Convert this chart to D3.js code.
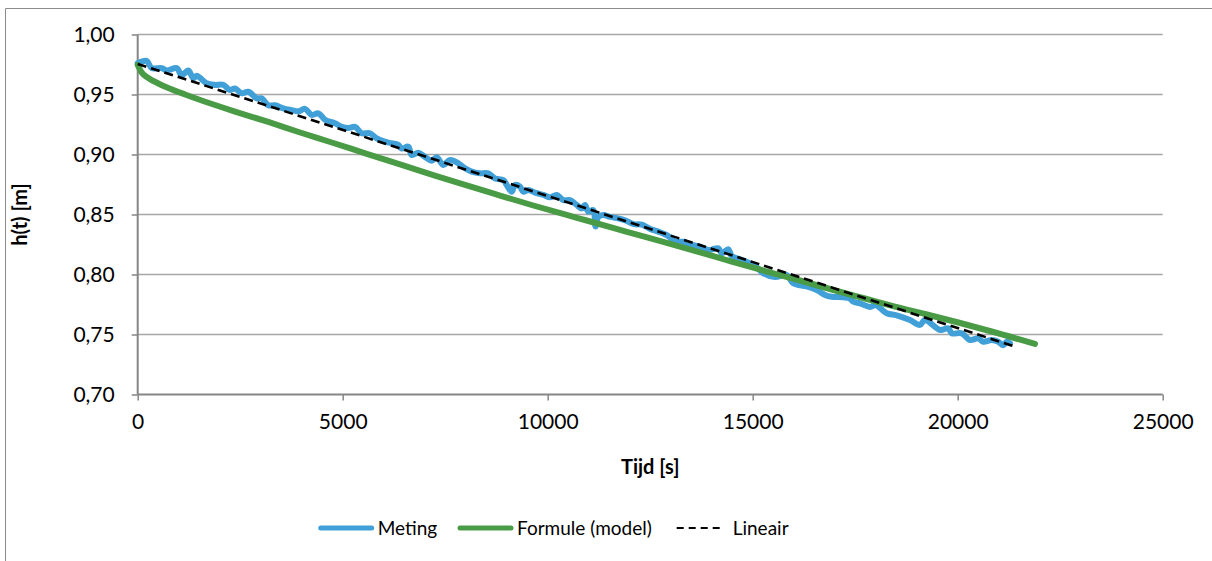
<!DOCTYPE html>
<html>
<head>
<meta charset="utf-8">
<script src="https://cdn.jsdelivr.net/npm/d3@7"></script>
<style>
  body { margin: 0; background: #fff; }
  svg { display: block; }
  text { font-family: Lato, "Open Sans", sans-serif; fill: #000; }
</style>
</head>
<body>
<svg id="chart" width="1212" height="561"></svg>
<script>
// Meting (measurement) [t, h]
let metingT = [0, 217, 341, 585, 707, 951, 1073, 1234, 1356, 1439, 1683, 1885, 2088, 2251, 2373, 2537, 2698, 2902, 3024, 3185,
    3349, 3551, 3756, 3917, 4080, 4244, 4405, 4568, 4812, 4976, 5137, 5300, 5463, 5666, 5829, 6112, 6356, 6439, 6600, 6683,
    6844, 7007, 7171, 7293, 7454, 7617, 7820, 7983, 8146, 8349, 8551, 8715, 8917, 9000, 9122, 9202, 9324, 9405, 9527, 9690,
    9893, 10056, 10220, 10380, 10544, 10707, 10829, 10910, 10990, 11112, 11166, 11234, 11356, 11520, 11722, 11900, 12100, 12300, 12500, 12700,
    12941, 13110, 13307, 13512, 13715, 13917, 14161, 14244, 14405, 14488, 14690, 14934, 15100, 15259, 15544, 15829, 15990, 16317, 16561, 16763,
    16927, 17210, 17373, 17454, 17617, 17861, 18000, 18268, 18512, 18837, 19080, 19200, 19568, 19771, 19854, 20098, 20300, 20503, 20625, 20830,
    20990, 21112, 21195, 21276];
let metingH = [0.976, 0.978, 0.972, 0.972, 0.970, 0.972, 0.966, 0.970, 0.9635, 0.9657, 0.9593, 0.958, 0.958, 0.9538, 0.955, 0.951, 0.9523, 0.9468, 0.9468, 0.941,
    0.941, 0.9385, 0.937, 0.936, 0.938, 0.933, 0.9343, 0.929, 0.926, 0.923, 0.922, 0.923, 0.9177, 0.9177, 0.9135, 0.910, 0.908, 0.905, 0.9065, 0.8996,
    0.9015, 0.898, 0.8948, 0.8977, 0.8913, 0.8954, 0.8927, 0.8885, 0.8857, 0.8843, 0.8843, 0.880, 0.8788, 0.8746, 0.869, 0.8746, 0.8732, 0.869, 0.8704, 0.8682,
    0.8663, 0.8643, 0.8663, 0.862, 0.862, 0.858, 0.855, 0.858, 0.8523, 0.8537, 0.840, 0.848, 0.8496, 0.848, 0.8468, 0.845, 0.842, 0.8415, 0.838, 0.8357,
    0.832, 0.8273, 0.8273, 0.8246, 0.8232, 0.8204, 0.8218, 0.8177, 0.821, 0.8154, 0.8127, 0.8093, 0.806, 0.801, 0.798, 0.7996, 0.7927, 0.790, 0.787, 0.783,
    0.7815, 0.781, 0.780, 0.7773, 0.776, 0.773, 0.7746, 0.7677, 0.766, 0.762, 0.758, 0.762, 0.7538, 0.7552, 0.751, 0.751, 0.7454, 0.7468, 0.744, 0.7454,
    0.744, 0.741, 0.744, 0.7427];

// Formule (model)
let modelT = [0, 98, 259, 502, 746, 1154, 1561, 2373, 3185, 4000, 4732, 5568, 6398, 7210, 8024, 8837, 9649, 10463, 10951, 11910,
    12861, 13673, 14488, 15300, 16112, 16927, 17739, 18471, 19202, 20015, 20829, 21885];
let modelH = [0.9746, 0.9683, 0.9638, 0.9592, 0.9554, 0.950, 0.945, 0.9358, 0.9271, 0.9179, 0.910, 0.9008, 0.8917, 0.8829, 0.8742, 0.8658, 0.8575, 0.8496, 0.845, 0.8358,
    0.8267, 0.8188, 0.8108, 0.8029, 0.7954, 0.7875, 0.780, 0.7733, 0.7671, 0.760, 0.7525, 0.7421];

// Lineair (trendline)
let lineairT = [0, 21350];
let lineairH = [0.9755, 0.7405];

let xTicks = [0, 5000, 10000, 15000, 20000, 25000];
let yTicks = [0.70, 0.75, 0.80, 0.85, 0.90, 0.95, 1.00];

let legendNames = ["Meting", "Formule (model)", "Lineair"];
let colors = ["#41a0d8", "#4a9b46", "#000"];

let svg = d3.select("#chart");
let locale = d3.formatLocale({decimal: ",", thousands: ".", grouping: [3], currency: ["", ""]});
let fmtY = locale.format(".2f");

let x = d3.scaleLinear().domain([0, 25000]).range([137.7, 1162.7]);
let y = d3.scaleLinear().domain([0.70, 1.00]).range([394.5, 34.5]);

// outer frame (top + left visible)
svg.append("path")
    .attr("d", "M5.5,565 V8.5 H1215")
    .attr("fill", "none")
    .attr("stroke", "#8c8c8c")
    .attr("stroke-width", 1);

// grid
svg.append("g").selectAll("line")
    .data(yTicks.slice(1))
    .join("line")
    .attr("x1", x(0)).attr("x2", x(25000))
    .attr("y1", d => y(d)).attr("y2", d => y(d))
    .attr("stroke", "#a6a6a6")
    .attr("stroke-width", 1.5);

// y axis
let yAxis = d3.axisLeft(y).tickValues(yTicks).tickFormat(fmtY).tickSize(6).tickPadding(17);
let gy = svg.append("g").attr("transform", "translate(" + x(0) + ",0)").call(yAxis);
gy.select(".domain").remove();
gy.selectAll(".tick line").attr("stroke", "#868686").attr("stroke-width", 1.5);
gy.selectAll(".tick text").style("font-size", "21px").attr("dy", "0.35em");
svg.append("line")
    .attr("x1", x(0)).attr("x2", x(0))
    .attr("y1", y(1.00)).attr("y2", y(0.70))
    .attr("stroke", "#868686").attr("stroke-width", 2);

// x axis
let xAxis = d3.axisBottom(x).tickValues(xTicks).tickFormat(d3.format("d")).tickSize(6).tickPadding(14);
let gx = svg.append("g").attr("transform", "translate(0," + y(0.70) + ")").call(xAxis);
gx.select(".domain").remove();
gx.selectAll(".tick line").attr("stroke", "#868686").attr("stroke-width", 1.5);
gx.selectAll(".tick text").style("font-size", "21px");
svg.append("line")
    .attr("x1", x(0)).attr("x2", x(25000))
    .attr("y1", y(0.70)).attr("y2", y(0.70))
    .attr("stroke", "#868686").attr("stroke-width", 2);

// axis titles
svg.append("text")
    .attr("x", (x(0) + x(25000)) / 2).attr("y", 474)
    .attr("text-anchor", "middle")
    .style("font-size", "20px").style("font-weight", "bold")
    .text("Tijd [s]");
svg.append("text")
    .attr("transform", "translate(27," + (y(0.85)) + ") rotate(-90)")
    .attr("text-anchor", "middle")
    .style("font-size", "20px").style("font-weight", "bold")
    .text("h(t) [m]");

// series
let meting = metingT.map((t, i) => [t, metingH[i]]);
let model = modelT.map((t, i) => [t, modelH[i]]);
let lineair = lineairT.map((t, i) => [t, lineairH[i]]);

svg.append("path")
    .datum(meting)
    .attr("d", d3.line().x(d => x(d[0])).y(d => y(d[1])).curve(d3.curveCatmullRom))
    .attr("fill", "none")
    .attr("stroke", colors[0])
    .attr("stroke-width", 6)
    .attr("stroke-linejoin", "round")
    .attr("stroke-linecap", "round");

svg.append("path")
    .datum(model)
    .attr("d", d3.line().x(d => x(d[0])).y(d => y(d[1])).curve(d3.curveMonotoneX))
    .attr("fill", "none")
    .attr("stroke", colors[1])
    .attr("stroke-width", 6)
    .attr("stroke-linecap", "round");

svg.append("path")
    .datum(lineair)
    .attr("d", d3.line().x(d => x(d[0])).y(d => y(d[1])))
    .attr("fill", "none")
    .attr("stroke", colors[2])
    .attr("stroke-width", 2.6)
    .attr("stroke-dasharray", "9,5");

// legend
let legendX = [320.7, 460, 676.7];
let legendY = 528;
let lg = svg.append("g");
legendNames.forEach((name, i) => {
    let item = lg.append("g");
    item.append("line")
        .attr("x1", legendX[i]).attr("x2", legendX[i] + (i === 2 ? 45 : 51))
        .attr("y1", legendY).attr("y2", legendY)
        .attr("stroke", colors[i])
        .attr("stroke-width", i === 2 ? 2 : 5)
        .attr("stroke-linecap", i === 2 ? "butt" : "round")
        .attr("stroke-dasharray", i === 2 ? "7,5" : null);
    item.append("text")
        .attr("x", legendX[i] + (i === 2 ? 56 : 57))
        .attr("y", legendY)
        .attr("dy", "0.35em")
        .style("font-size", "19px")
        .text(name);
});
</script>
</body>
</html>
